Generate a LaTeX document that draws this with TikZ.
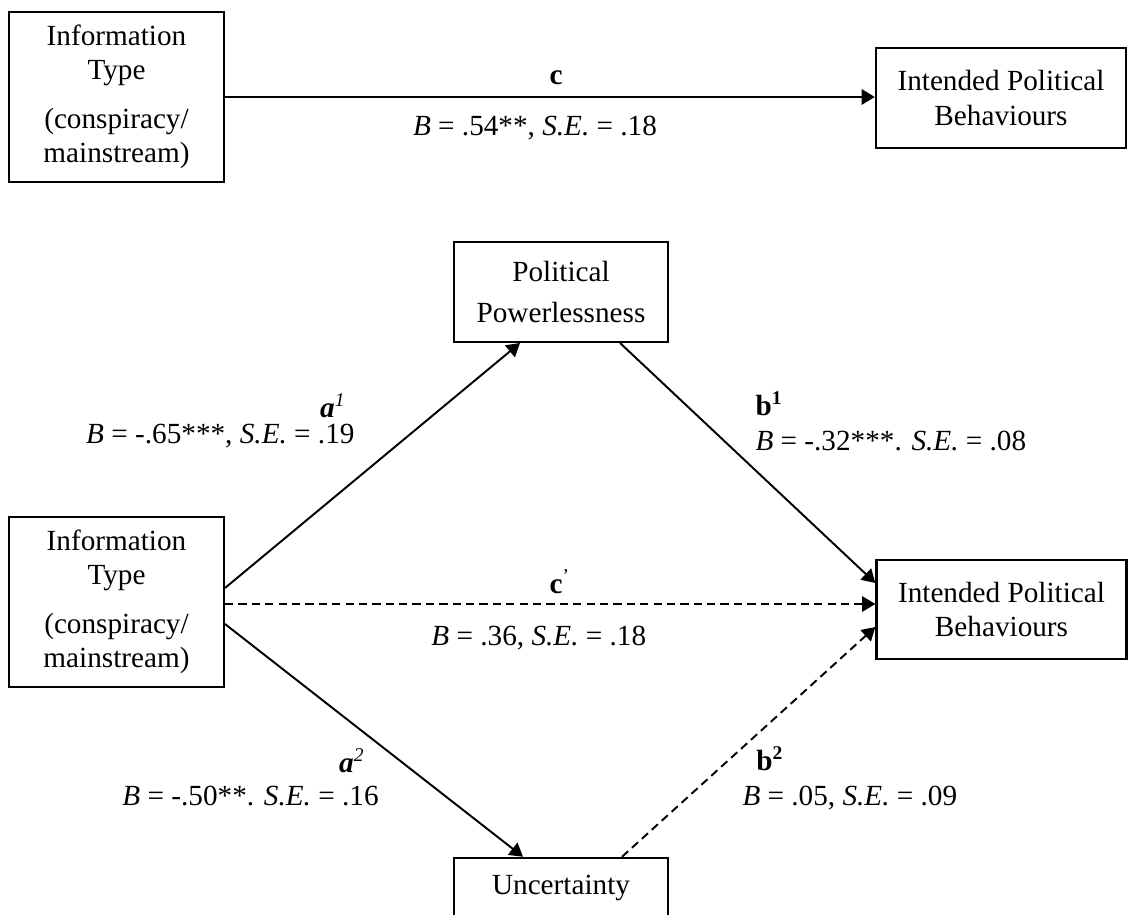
\documentclass[tikz,border=0pt]{standalone}
\usepackage{fontspec}
\setmainfont{Liberation Serif}
\usetikzlibrary{arrows.meta,calc}

\begin{document}
\begin{tikzpicture}[
    x=0.01444cm, y=-0.01444cm,
    font=\fontsize{12}{14}\selectfont,
    var/.style={rectangle, draw, line width=0.9pt, align=center, inner sep=0pt},
    infobox/.style={var, minimum width=3.10cm, minimum height=2.45cm},
    outbox/.style={var, minimum width=3.61cm, minimum height=1.44cm},
    medbox/.style={var, minimum width=3.09cm, minimum height=1.44cm},
    lab/.style={inner sep=0pt},
    effect/.style={-{Triangle[length=0.19cm, width=0.22cm]}, line width=0.8pt},
    nseffect/.style={effect, dash pattern=on 3.4pt off 2.1pt}
]
    \useasboundingbox (0,0) rectangle (1130,914);

    % total effect
    \node[infobox] (info1) at (116.5,97) {Information\\Type\\[6pt](conspiracy/\\mainstream)};
    \node[outbox] (ipb1) at (1001,98) {Intended Political\\Behaviours};

    \draw[effect] (info1.east) -- (info1.east -| ipb1.west);
    \node[lab, anchor=base] (clab) at (556,85) {\textbf{c}};
    \node[lab, anchor=base] (cval) at (535,136) {\textit{B} = .54**, \textit{S.E.} = .18};

    % mediation model
    \node[infobox] (info2) at (116.5,602) {Information\\Type\\[6pt](conspiracy/\\mainstream)};
    \node[medbox] (pp) at (561,292) {Political\\[2.5pt]Powerlessness};
    \node[outbox] (ipb2) at (1001.5,609.5) {Intended Political\\Behaviours};
    \node[var, minimum width=3.09cm, minimum height=0.87cm] (unc) at (561,888) {Uncertainty};

    \draw[effect] ($(info2.east)+(0,-14)$) -- ($(pp.south)+(-41,0)$);
    \draw[effect] ($(pp.south)+(59,0)$) -- ($(ipb2.west)+(0,-26.5)$);
    \draw[nseffect] ($(info2.east)+(0,2)$) -- ($(ipb2.west)+(0,-5.5)$);
    \draw[effect] ($(info2.east)+(0,22)$) -- ($(unc.north)+(-38,0)$);
    \draw[nseffect] ($(unc.north)+(61,0)$) -- ($(ipb2.west)+(0,17.5)$);

    \node[lab, anchor=base] (a1lab) at (333,417) {\textbf{\textit{a}}\textsuperscript{\textit{1}}};
    \node[lab, anchor=base east] (a1val) at (355,443) {\textit{B} = -.65***, \textit{S.E.} = .19};
    \node[lab, anchor=base west] (b1lab) at (755,415) {\textbf{b\textsuperscript{1}}};
    \node[lab, anchor=base west] (b1val) at (755,450) {\textit{B} = -.32***. \textit{S.E.} = .08};

    \node[lab, anchor=base] (cplab) at (560,593) {\textbf{c}\textsuperscript{’}};
    \node[lab, anchor=base west] (cpval) at (431,645) {\textit{B} = .36, \textit{S.E.} = .18};

    \node[lab, anchor=base] (a2lab) at (352,772) {\textbf{\textit{a}}\textsuperscript{\textit{2}}};
    \node[lab, anchor=base west] (a2val) at (122,805) {\textit{B} = -.50**. \textit{S.E.} = .16};
    \node[lab, anchor=base] (b2lab) at (770,770) {\textbf{b\textsuperscript{2}}};
    \node[lab, anchor=base west] (b2val) at (742,805) {\textit{B} = .05, \textit{S.E.} = .09};
\end{tikzpicture}
\end{document}
